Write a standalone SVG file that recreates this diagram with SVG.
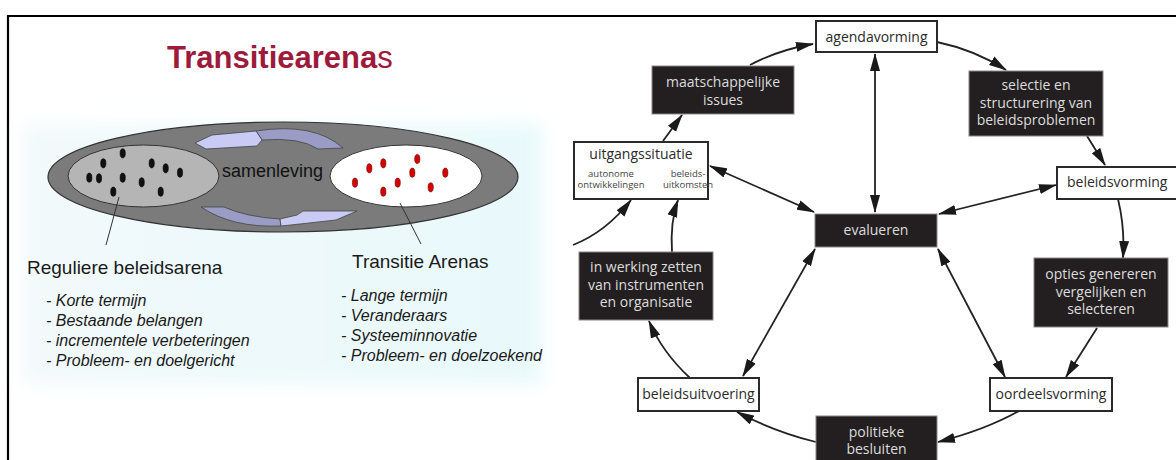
<svg xmlns="http://www.w3.org/2000/svg" width="1176" height="460" viewBox="0 0 1176 460">
<defs>
<style>
.ttl{font-family:"Liberation Sans",Arial,sans-serif;font-size:31px;font-weight:bold;fill:#9e1a3b}
.lbl{font-family:"Liberation Sans",Arial,sans-serif;font-size:19px;fill:#1a1a1a}
.it{font-family:"Liberation Sans",Arial,sans-serif;font-size:16px;font-style:italic;fill:#1a1a1a}
.sam{font-family:"Liberation Sans",Arial,sans-serif;font-size:18px;fill:#111}
.bd{fill:#111;stroke:#000;stroke-width:0.6}
.rd{fill:#d40000;stroke:#600;stroke-width:0.6}
.wb{fill:#fff;stroke:#2a2a2a;stroke-width:2}
.bb{fill:#231f20;stroke:#888;stroke-width:1}
.wt{font-family:"Open Sans","Noto Sans",sans-serif;font-size:14px;fill:#2a2a2a;text-anchor:middle}
.bt{font-family:"Open Sans","Noto Sans",sans-serif;font-size:14px;fill:#dcdcdc;text-anchor:middle}
.sm{font-family:"Open Sans","Noto Sans",sans-serif;font-size:9.5px;fill:#444;text-anchor:middle}
.cn{fill:none;stroke:#222;stroke-width:1.8}
.one{marker-end:url(#ah)}
.two{marker-end:url(#ah);marker-start:url(#ah)}
.lt{fill:#c9cbf5;stroke:#444;stroke-width:0.8}
.dk{fill:#9a9cc6;stroke:#444;stroke-width:0.8}
</style>
<marker id="ah" viewBox="0 0 18 11" refX="17" refY="5.5" markerWidth="18" markerHeight="11" markerUnits="userSpaceOnUse" orient="auto-start-reverse">
<path d="M0,0.5 L18,5.5 L0,10.5 Z" fill="#1a1a1a"/>
</marker>
<linearGradient id="bgg" x1="0" y1="0" x2="1" y2="0">
<stop offset="0" stop-color="#f2f9fb"/>
<stop offset="1" stop-color="#e8f9fb"/>
</linearGradient>
<filter id="blur" x="-10%" y="-10%" width="120%" height="120%"><feGaussianBlur stdDeviation="9"/></filter>
</defs>
<rect x="0" y="0" width="1176" height="460" fill="#fff"/>
<path d="M8,460 L8,16 L1176,16" fill="none" stroke="#000" stroke-width="2.2"/>

<g id="left-panel">
<rect x="24" y="124" width="518" height="260" fill="url(#bgg)" filter="url(#blur)"/>
<text class="ttl" x="167" y="68">Transitiearena<tspan font-weight="normal">s</tspan></text>
<g id="society">
<ellipse cx="283" cy="177" rx="235" ry="55" fill="#7b7b7b" stroke="#333" stroke-width="1.2"/>
<path class="dk" d="M256,131 Q314,122 343,148 L318,149 Q300,137 262,140 Z"/>
<path class="lt" d="M195,143 L212,135 L256,131 L262,140 L257,146 L206,149 Z"/>
<path class="dk" d="M201,207 L224,207 Q246,217 280,219 L281,226 Q232,228 201,207 Z"/>
<path class="lt" d="M280,219 L297,215 L303,211 L357,211 L336,220 L300,224 L281,226 Z"/>
<text class="sam" x="222" y="177">samenleving</text>
</g>
<g id="reguliere-arena">
<ellipse cx="143.5" cy="176" rx="75.5" ry="31" fill="#b5b5b5" stroke="#333" stroke-width="1"/>
<ellipse class="bd" cx="122.7" cy="153.3" rx="2.6" ry="4.6"/>
<ellipse class="bd" cx="103.3" cy="163.3" rx="2.6" ry="4.6"/>
<ellipse class="bd" cx="151.7" cy="163.3" rx="2.6" ry="4.6"/>
<ellipse class="bd" cx="165.7" cy="168.3" rx="2.6" ry="4.6"/>
<ellipse class="bd" cx="180" cy="172.7" rx="2.6" ry="4.6"/>
<ellipse class="bd" cx="89.3" cy="177.7" rx="2.6" ry="4.6"/>
<ellipse class="bd" cx="99" cy="178.3" rx="2.6" ry="4.6"/>
<ellipse class="bd" cx="122.7" cy="177.7" rx="2.6" ry="4.6"/>
<ellipse class="bd" cx="141.7" cy="182.3" rx="2.6" ry="4.6"/>
<ellipse class="bd" cx="113.3" cy="191.7" rx="2.6" ry="4.6"/>
<ellipse class="bd" cx="160.7" cy="191.7" rx="2.6" ry="4.6"/>
<line x1="119" y1="197" x2="106" y2="245" stroke="#333" stroke-width="1"/>
<text class="lbl" x="27" y="274">Reguliere beleidsarena</text>
<text class="it" x="46" y="306">- Korte termijn</text>
<text class="it" x="46" y="326">- Bestaande belangen</text>
<text class="it" x="46" y="346">- incrementele verbeteringen</text>
<text class="it" x="46" y="366">- Probleem- en doelgericht</text>
</g>
<g id="transitie-arena">
<ellipse cx="406" cy="176" rx="76" ry="31" fill="#fff" stroke="#333" stroke-width="1"/>
<ellipse class="rd" cx="355" cy="182.7" rx="2.6" ry="4.6"/>
<ellipse class="rd" cx="369.3" cy="168.3" rx="2.6" ry="4.6"/>
<ellipse class="rd" cx="383.3" cy="163.3" rx="2.6" ry="4.6"/>
<ellipse class="rd" cx="383.3" cy="191.7" rx="2.6" ry="4.6"/>
<ellipse class="rd" cx="397.7" cy="182.7" rx="2.6" ry="4.6"/>
<ellipse class="rd" cx="412.3" cy="172.7" rx="2.6" ry="4.6"/>
<ellipse class="rd" cx="417.3" cy="159" rx="2.6" ry="4.6"/>
<ellipse class="rd" cx="430.7" cy="187.3" rx="2.6" ry="4.6"/>
<ellipse class="rd" cx="445.3" cy="172.7" rx="2.6" ry="4.6"/>
<line x1="400" y1="203" x2="421" y2="244" stroke="#333" stroke-width="1"/>
<text class="lbl" x="352" y="268">Transitie Arenas</text>
<text class="it" x="341" y="301">- Lange termijn</text>
<text class="it" x="341" y="321">- Veranderaars</text>
<text class="it" x="341" y="341">- Systeeminnovatie</text>
<text class="it" x="341" y="361">- Probleem- en doelzoekend</text>
</g>
</g>

<g id="connectors">
<path class="cn one" d="M750,65 Q778,50 813,44"/>
<path class="cn one" d="M937,42 Q975,50 1006,70"/>
<path class="cn one" d="M1087,136 L1105,165"/>
<path class="cn two" d="M875,54 L875,212"/>
<path class="cn two" d="M1056,185 L939,214"/>
<path class="cn two" d="M710,166 L814,212"/>
<path class="cn one" d="M663,141 L682,115"/>
<path class="cn one" d="M573,245 Q606,232 631,200"/>
<path class="cn one" d="M672,252 Q670,222 678,200"/>
<path class="cn one" d="M690,378 Q662,352 649,321"/>
<path class="cn two" d="M743,376 L815,249"/>
<path class="cn one" d="M816,442 Q775,432 737,412"/>
<path class="cn one" d="M1019,411 Q985,430 938,442"/>
<path class="cn one" d="M1097,328 L1066,377"/>
<path class="cn two" d="M938,249 L1005,377"/>
<path class="cn one" d="M1118,199 Q1125,228 1123,258"/>
</g>

<g id="agendavorming"><rect class="wb" x="816" y="21" width="121" height="31"/><text class="wt" x="876.5" y="41.5">agendavorming</text></g>
<g id="maatschappelijke-issues"><rect class="bb" x="652" y="66" width="142" height="48"/><text class="bt" x="723" y="87">maatschappelijke</text><text class="bt" x="723" y="105">issues</text></g>
<g id="selectie"><rect class="bb" x="969" y="71" width="134" height="65"/><text class="bt" x="1036" y="90">selectie en</text><text class="bt" x="1036" y="107.5">structurering van</text><text class="bt" x="1036" y="125">beleidsproblemen</text></g>
<g id="uitgangssituatie"><rect class="wb" x="574" y="142" width="134" height="57"/><text class="wt" x="641" y="159">uitgangssituatie</text><text class="sm" x="611" y="177">autonome</text><text class="sm" x="611" y="188">ontwikkelingen</text><text class="sm" x="688" y="177">beleids-</text><text class="sm" x="688" y="188">uitkomsten</text></g>
<g id="beleidsvorming"><rect class="wb" x="1057" y="167" width="125" height="32"/><text class="wt" x="1067" y="187" style="text-anchor:start">beleidsvorming</text></g>
<g id="evalueren"><rect class="bb" x="815" y="214" width="122" height="33"/><text class="bt" x="876" y="235">evalueren</text></g>
<g id="in-werking"><rect class="bb" x="579" y="252" width="134" height="68"/><text class="bt" x="646" y="272">in werking zetten</text><text class="bt" x="646" y="290">van instrumenten</text><text class="bt" x="646" y="307">en organisatie</text></g>
<g id="opties"><rect class="bb" x="1034" y="258" width="134" height="69"/><text class="bt" x="1101" y="279">opties genereren</text><text class="bt" x="1101" y="297">vergelijken en</text><text class="bt" x="1101" y="314">selecteren</text></g>
<g id="beleidsuitvoering"><rect class="wb" x="638" y="378" width="121" height="33"/><text class="wt" x="698.5" y="398.5">beleidsuitvoering</text></g>
<g id="oordeelsvorming"><rect class="wb" x="990" y="378" width="122" height="33"/><text class="wt" x="1051" y="398.5">oordeelsvorming</text></g>
<g id="politieke-besluiten"><rect class="bb" x="816" y="416" width="121" height="50"/><text class="bt" x="876.5" y="437">politieke</text><text class="bt" x="876.5" y="454">besluiten</text></g>
</svg>
